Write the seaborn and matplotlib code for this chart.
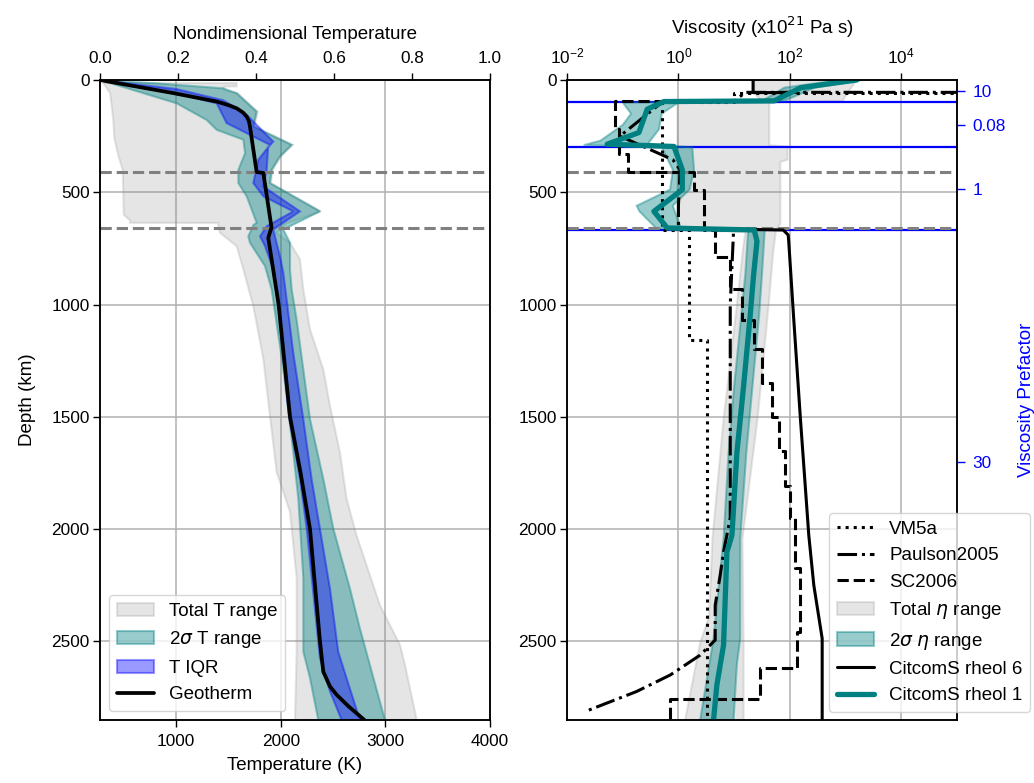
import numpy as np
import pandas as pd
import matplotlib
matplotlib.use("Agg")
import matplotlib.pyplot as plt
import seaborn as sns
from matplotlib.ticker import NullLocator, FixedLocator
from matplotlib.lines import Line2D

# ---------------- temperature panel data (depth km, temperature K) ----------------
geo_depth = [0, 20, 58, 96, 112, 126, 145, 163, 185, 207, 410, 414, 660, 666, 703, 1000,
             1500, 1750, 2000, 2500, 2635, 2700, 2738, 2790, 2850]
geo_temp = [273, 513, 971, 1388, 1500, 1579, 1640, 1675, 1697, 1706, 1770, 1834, 1913,
            1905, 1881, 1980, 2089, 2190, 2280, 2375, 2407, 2470, 2535, 2650, 2800]

tot_left_d = [13, 30, 60, 178, 260, 340, 400, 600, 625, 636, 637, 681, 740, 844, 1007,
              1243, 1495, 1746, 1924, 2220, 2546, 2850]
tot_left_T = [300, 330, 370, 400, 410, 450, 490, 500, 560, 560, 1400, 1420, 1579, 1643,
              1738, 1834, 1897, 1961, 2089, 2152, 2152, 2136]
tot_right_d = [13, 28, 30, 44, 59, 141, 207, 289, 340, 400, 459, 585, 640, 681, 725, 799,
               932, 1110, 1288, 1451, 1658, 1865, 2028, 2339, 2516, 2605, 2850]
tot_right_T = [1579, 1579, 1460, 1460, 1590, 1780, 1750, 2115, 2003, 1923, 1907, 2385,
               2050, 1961, 2089, 2184, 2216, 2280, 2407, 2471, 2566, 2630, 2725, 2949,
               3140, 3188, 3300]

s2_left_d = [0, 104, 178, 222, 266, 326, 400, 459, 518, 636, 645, 696, 725, 829, 932,
             1288, 1658, 1865, 2220, 2546, 2664, 2850]
s2_left_T = [273, 1006, 1292, 1388, 1643, 1659, 1595, 1595, 1675, 1770, 1740, 1690, 1706,
             1850, 1913, 2025, 2120, 2168, 2216, 2216, 2280, 2359]
s2_right_d = [0, 15, 37, 59, 141, 207, 289, 340, 400, 459, 585, 666, 725, 844, 932, 1066,
              1510, 1776, 1998, 2265, 2442, 2850]
s2_right_T = [273, 814, 1451, 1579, 1770, 1738, 2105, 1993, 1913, 1897, 2375, 2025, 2089,
              2089, 2105, 2152, 2280, 2407, 2503, 2662, 2757, 2996]

iqr_left_d = [0, 74, 104, 192, 237, 289, 355, 459, 518, 585, 651, 696, 740, 844, 1000,
              1500, 1776, 1998, 2575, 2723, 2850]
iqr_left_T = [273, 1133, 1388, 1483, 1675, 1897, 1786, 1738, 1834, 2120, 1866, 1802, 1850,
              1929, 1975, 2080, 2184, 2248, 2375, 2471, 2582]
iqr_right_d = [0, 40, 90, 126, 155, 274, 300, 400, 474, 585, 666, 785, 858, 1214, 1510,
               1776, 1998, 2265, 2546, 2664, 2850]
iqr_right_T = [273, 1000, 1450, 1579, 1675, 1929, 1880, 1866, 1834, 2184, 1929, 1993, 2025,
               2120, 2216, 2295, 2375, 2471, 2550, 2630, 2757]

# ---------------- viscosity panel data (depth km, log10 viscosity / 1e21 Pa s) ----------------
vm5a_d = [0, 60, 60, 100, 100, 670, 670, 1160, 1160, 2850]
vm5a_log = [6, 6, 1.0, 1.0, -0.3, -0.3, 0.196, 0.196, 0.505, 0.505]

paulson_d = [0, 55, 55, 95, 100, 250, 355, 400, 560, 660, 670, 1000, 1950, 2102, 2205,
             2339, 2494, 2561, 2650, 2723, 2810]
paulson_log = [6, 6, 1.2, 1.0, -0.3, -1.05, -0.1, 0.03, 0.0, 0.0, 0.99, 0.93, 0.93, 0.81,
               0.75, 0.66, 0.66, 0.39, -0.15, -0.75, -1.65]

sc2006_d = [95, 95, 220, 220, 330, 330, 410, 410, 490, 490, 670, 670, 790, 790, 930, 930,
            1070, 1070, 1200, 1200, 1350, 1350, 1500, 1500, 1650, 1650, 1810, 1810, 1950,
            1950, 2175, 2175, 2460, 2460, 2620, 2620, 2757, 2757, 2850]
sc2006_log = [0.64, -1.13, -1.13, -1.06, -1.06, -0.9, -0.9, 0.28, 0.28, 0.46, 0.46, 0.66,
              0.66, 0.93, 0.93, 1.14, 1.14, 1.35, 1.35, 1.5, 1.5, 1.68, 1.68, 1.8, 1.8,
              1.92, 1.92, 2.01, 2.01, 2.10, 2.10, 2.19, 2.19, 2.13, 2.13, 1.47, 1.47,
              -0.15, -0.15]

eta_tot_left_d = [0, 60, 93, 100, 670, 675, 770, 1000, 1510, 2043, 2390, 2505, 2850]
eta_tot_left = [1.36, 1.36, 1.5, -0.02, -0.02, 1.2, 1.15, 1.05, 0.81, 0.61, 0.55, 0.39, 0.12]
eta_tot_right_d = [0, 70, 93, 100, 290, 296, 355, 365, 640, 670, 770, 1000, 1510, 2043,
                   2500, 2850]
eta_tot_right = [3.2, 3.0, 2.95, 1.63, 1.63, 1.96, 1.96, 1.83, 1.83, 1.75, 1.7, 1.62, 1.42,
                 1.15, 1.17, 1.17]

eta_s2_left_d = [0, 34, 93, 100, 150, 200, 270, 290, 300, 400, 488, 560, 585, 660, 672,
                 866, 1043, 1362, 1658, 2043, 2487, 2850]
eta_s2_left = [2.9, 1.9, 1.5, -1.0, -0.85, -1.0, -1.4, -1.7, -0.3, -0.1, -0.15, -0.75,
               -0.7, -0.4, 1.25, 1.2, 1.13, 1.0, 0.9, 0.81, 0.63, 0.39]
eta_s2_right_d = [0, 34, 93, 100, 150, 220, 285, 300, 400, 488, 560, 630, 660, 668, 866,
                  1043, 1362, 1658, 2043, 2487, 2600, 2850]
eta_s2_right = [3.3, 2.45, 1.9, 0.0, -0.3, -0.35, -0.55, 0.25, 0.28, 0.2, -0.1, 0.0, 0.05,
                1.55, 1.5, 1.45, 1.33, 1.22, 1.11, 1.11, 1.05, 0.99]

rheol1_d = [0, 34, 93, 96, 130, 234, 286, 296, 400, 488, 585, 659, 668, 718, 866, 1043,
            1362, 1658, 2028, 2102, 2516, 2694, 2850]
rheol1_log = [3.2, 2.2, 1.72, -0.26, -0.56, -0.71, -1.28, -0.08, 0.07, 0.07, -0.44, -0.2,
              1.36, 1.41, 1.35, 1.29, 1.17, 1.05, 0.96, 0.87, 0.81, 0.69, 0.63]

rheol6_d = [0, 56, 56, 93, 96, 130, 234, 286, 296, 400, 488, 585, 659, 668, 690, 720, 1066,
            1510, 2028, 2250, 2487, 2850]
rheol6_log = [1.34, 1.34, 1.95, 1.72, -0.26, -0.56, -0.71, -1.28, -0.08, 0.07, 0.07, -0.44,
              -0.2, 1.88, 1.97, 1.98, 2.07, 2.19, 2.34, 2.43, 2.58, 2.58]

prefactor_depth = [50, 200, 485, 1700]
prefactor_labels = ["10", "0.08", "1", "30"]
layer_bounds = [100, 300, 670]
discontinuities = [410, 660]

depth_ticks = [0, 500, 1000, 1500, 2000, 2500]
depth_max = 2850

# ---------------- style ----------------
LABEL_FS = 13.5
TICK_FS = 12.4
sns.set_theme(style="ticks", rc={
    "axes.edgecolor": "black", "text.color": "black", "axes.labelcolor": "black",
    "xtick.color": "black", "ytick.color": "black", "grid.color": "#b0b0b0",
    "axes.linewidth": 1.1, "grid.linewidth": 1.1,
    "xtick.major.size": 5, "ytick.major.size": 5,
    "xtick.major.width": 1.0, "ytick.major.width": 1.0,
    "xtick.major.pad": 5, "ytick.major.pad": 2.5,
    "axes.labelpad": 10,
})
plt.rcParams["font.family"] = ["Liberation Sans", "DejaVu Sans"]
plt.rcParams["mathtext.fontset"] = "dejavusans"
plt.rcParams["font.size"] = LABEL_FS
plt.rcParams["axes.labelsize"] = LABEL_FS
plt.rcParams["legend.fontsize"] = LABEL_FS
plt.rcParams["xtick.labelsize"] = TICK_FS
plt.rcParams["ytick.labelsize"] = TICK_FS

TEAL = "teal"
fig = plt.figure(figsize=(10.34, 7.83), dpi=100)
axT = fig.add_axes([100 / 1034, 1 - 720 / 783, 390 / 1034, 640 / 783])
axV = fig.add_axes([567 / 1034, 1 - 720 / 783, 390 / 1034, 640 / 783])


def draw_line(ax, x, y, **kw):
    df = pd.DataFrame({"x": x, "y": y})
    sns.lineplot(data=df, x="x", y="y", ax=ax, sort=False, estimator=None,
                 orient="y", legend=False, **kw)


def band(ax, ld, lx, rd, rx, **kw):
    xs = list(lx) + list(rx)[::-1]
    ys = list(ld) + list(rd)[::-1]
    return ax.fill(xs, ys, **kw)[0]


# ---------------- temperature panel ----------------
p_tot = band(axT, tot_left_d, tot_left_T, tot_right_d, tot_right_T,
             facecolor="gray", edgecolor="gray", alpha=0.2, lw=1.5, zorder=2)
p_s2 = band(axT, s2_left_d, s2_left_T, s2_right_d, s2_right_T,
            facecolor=TEAL, edgecolor=TEAL, alpha=0.4, lw=1.5, zorder=2.1)
p_iqr = band(axT, iqr_left_d, iqr_left_T, iqr_right_d, iqr_right_T,
             facecolor="blue", edgecolor="blue", alpha=0.4, lw=1.5, zorder=2.2)
for d in discontinuities:
    axT.axhline(d, color="gray", ls="--", lw=2.2, zorder=2.5)
draw_line(axT, geo_temp, geo_depth, color="black", lw=2.7, zorder=3)

axT.set_xlim(273, 4000)
axT.set_ylim(depth_max, 0)
axT.set_xticks([1000, 2000, 3000, 4000])
axT.set_yticks(depth_ticks)
axT.set_xlabel("Temperature (K)", labelpad=6)
axT.set_ylabel("Depth (km)", labelpad=11)
axT.grid(True)

axN = axT.twiny()
axN.set_xlim(0, 1)
axN.set_xticks([0.0, 0.2, 0.4, 0.6, 0.8, 1.0])
axN.set_xlabel("Nondimensional Temperature", labelpad=9)

h_geo = Line2D([], [], color="black", lw=2.7)
axT.legend([p_tot, p_s2, p_iqr, h_geo],
           ["Total T range", "2$\\sigma$ T range", "T IQR", "Geotherm"],
           loc="lower left", frameon=True)

# ---------------- viscosity panel ----------------
axV.set_xscale("log")
to_lin = lambda a: [10.0 ** v for v in a]

for d in layer_bounds:
    axV.axhline(d, color="blue", lw=1.6, zorder=2.0)

e_tot = band(axV, eta_tot_left_d, to_lin(eta_tot_left), eta_tot_right_d, to_lin(eta_tot_right),
             facecolor="gray", edgecolor="gray", alpha=0.2, lw=1.5, zorder=1.5)
e_s2 = band(axV, eta_s2_left_d, to_lin(eta_s2_left), eta_s2_right_d, to_lin(eta_s2_right),
            facecolor=TEAL, edgecolor=TEAL, alpha=0.4, lw=1.5, zorder=2.1)
for d in discontinuities:
    axV.axhline(d, color="gray", ls="--", lw=2.2, zorder=2.5)

draw_line(axV, to_lin(vm5a_log), vm5a_d, color="black", lw=2.2, linestyle=":", zorder=3)
draw_line(axV, to_lin(paulson_log), paulson_d, color="black", lw=2.2, linestyle="-.", zorder=3)
draw_line(axV, to_lin(sc2006_log), sc2006_d, color="black", lw=2.2, linestyle="--", zorder=3)
draw_line(axV, to_lin(rheol6_log), rheol6_d, color="black", lw=2.2, zorder=3.1)
draw_line(axV, to_lin(rheol1_log), rheol1_d, color=TEAL, lw=3.8, zorder=3.2)

axV.set_xlim(1e-2, 1e5)
axV.set_ylim(depth_max, 0)
axV.set_yticks(depth_ticks)
axV.xaxis.tick_top()
axV.xaxis.set_label_position("top")
axV.xaxis.set_major_locator(FixedLocator([1e-2, 1e0, 1e2, 1e4]))
axV.xaxis.set_minor_locator(NullLocator())
axV.set_xlabel("Viscosity (x10$^{21}$ Pa s)", labelpad=9)
axV.set_ylabel("")
axV.grid(True)

axP = axV.twinx()
axP.set_ylim(depth_max, 0)
axP.set_yticks(prefactor_depth)
axP.set_yticklabels(prefactor_labels)
axP.tick_params(axis="y", colors="blue", length=6, pad=5)
axP.set_ylabel("Viscosity Prefactor", color="blue", labelpad=9)

v_handles = [
    Line2D([], [], color="black", lw=2.2, ls=":"),
    Line2D([], [], color="black", lw=2.2, ls="-."),
    Line2D([], [], color="black", lw=2.2, ls="--"),
    e_tot, e_s2,
    Line2D([], [], color="black", lw=2.2),
    Line2D([], [], color=TEAL, lw=3.8),
]
v_labels = ["VM5a", "Paulson2005", "SC2006", "Total $\\eta$ range", "2$\\sigma$ $\\eta$ range",
            "CitcomS rheol 6", "CitcomS rheol 1"]
axP.legend(v_handles, v_labels, loc="lower right", bbox_to_anchor=(1.187, 0.0125),
           borderaxespad=0.0, frameon=True)

fig.savefig("out.png", dpi=100)
